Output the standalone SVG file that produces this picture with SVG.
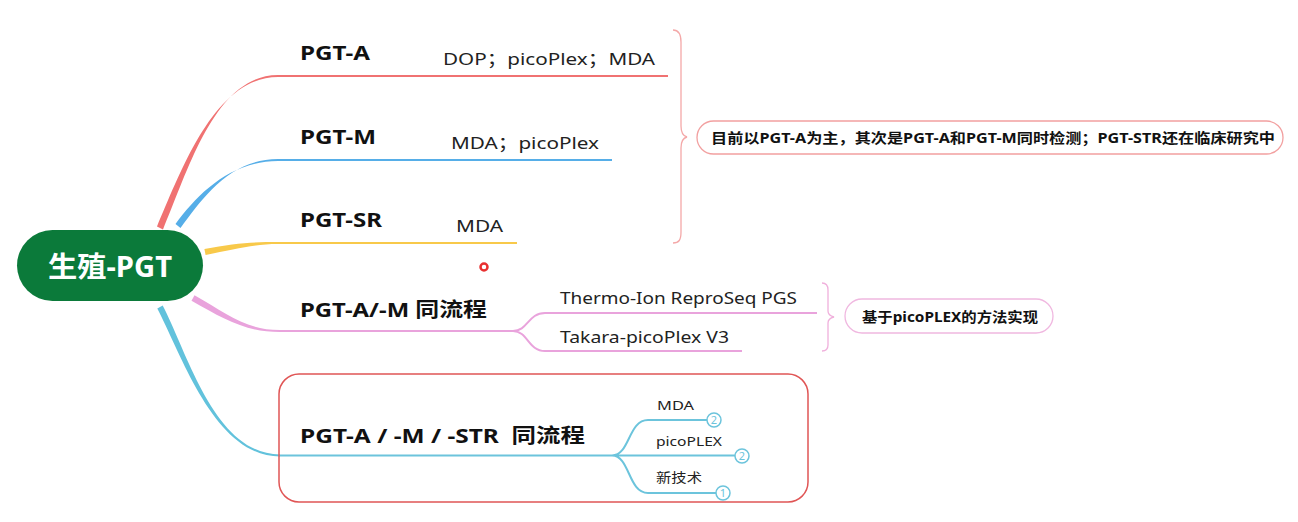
<svg xmlns="http://www.w3.org/2000/svg" width="1298" height="522" viewBox="0 0 1298 522">
<style>
text{font-family:"Noto Sans","Noto Sans CJK SC",sans-serif;}
.lbl{font-size:20px;font-weight:bold;fill:#111;}
.sub{font-size:17px;fill:#222;}
.sm{font-size:13px;fill:#222;}
.note{font-size:14px;font-weight:bold;fill:#111;}
.badge{fill:#fff;stroke:#6cc4dc;stroke-width:1.5;}
.bnum{font-size:11px;fill:#6cc4dc;text-anchor:middle;}
.thin{fill:none;stroke-width:2;}
</style>
<rect width="1298" height="522" fill="#fff"/>
<g id="connectors">
  <!-- PGT-A -->
  <path d="M163,229.5 C188,171 215,75 278,75 L278,77 C215,77 182,168.5 157,226.5 Z" fill="#f07272"/>
  <line x1="277" y1="76" x2="668" y2="76" class="thin" stroke="#f07272"/>
  <!-- PGT-M -->
  <path d="M180.5,228 C202.5,198 230,159 278,159 L278,161 C230,161 197.5,194 175.5,224 Z" fill="#56aee8"/>
  <line x1="277" y1="160" x2="612" y2="160" class="thin" stroke="#56aee8"/>
  <!-- PGT-SR -->
  <path d="M205.6,255 C235.6,249 255,244 278,244 L278,242 C255,242 234.4,243 204.4,249 Z" fill="#f8c94a"/>
  <line x1="277" y1="243" x2="517" y2="243" class="thin" stroke="#f8c94a"/>
  <!-- PGT-A/-M -->
  <path d="M191.5,300.8 C223.5,318.8 245,332 280,332 L280,330 C245,330 226.5,313.2 194.5,295.2 Z" fill="#e9a3dc"/>
  <path d="M279,331 L513,331 C528,331 528,313 545,313 L817,313 M513,331 C528,331 528,351 545,351 L742,351" class="thin" stroke="#e9a3dc"/>
  <!-- PGT-A/-M/-STR -->
  <path d="M162.7,305.5 C187.7,353.5 215,454.5 280,454.5 L280,456.5 C215,456.5 182.3,356.5 157.3,308.5 Z" fill="#62c2dc"/>
  <path d="M279,455.5 L612,455.5 C630,455.5 628,420 648,420 L707,420 M612,455.5 L735,455.5 M612,455.5 C630,455.5 628,493 648,493 L716,493" class="thin" stroke="#6cc4dc"/>
  <!-- braces -->
  <path d="M673,30 C679,30 681,34 681,42 L681,126 C681,133 683,136 687,137 C683,138 681,141 681,148 L681,232 C681,240 679,243 673,243" fill="none" stroke="#f4a8a8" stroke-width="1.3"/>
  <path d="M822,283 C826,283 828,285 828,290 L828,311 C828,314 830,316 834,317 C830,318 828,320 828,323 L828,345 C828,349 826,351 822,351" fill="none" stroke="#f0b0dc" stroke-width="1.3"/>
</g>
<g id="root">
  <rect x="17" y="230" width="186" height="71" rx="35.5" fill="#0b7a3a"/>
  <text x="110" y="277" font-size="28" font-weight="bold" fill="#fff" text-anchor="middle" textLength="124" lengthAdjust="spacingAndGlyphs">生殖-PGT</text>
</g>
<g id="pgt-a">
  <text x="300" y="60" class="lbl" textLength="70" lengthAdjust="spacingAndGlyphs">PGT-A</text>
  <text x="443" y="65" class="sub" textLength="212" lengthAdjust="spacingAndGlyphs">DOP；picoPlex；MDA</text>
</g>
<g id="pgt-m">
  <text x="300" y="144" class="lbl" textLength="76" lengthAdjust="spacingAndGlyphs">PGT-M</text>
  <text x="451" y="149" class="sub" textLength="148" lengthAdjust="spacingAndGlyphs">MDA；picoPlex</text>
</g>
<g id="pgt-sr">
  <text x="300" y="227" class="lbl" textLength="82" lengthAdjust="spacingAndGlyphs">PGT-SR</text>
  <text x="456" y="232" class="sub" textLength="47" lengthAdjust="spacingAndGlyphs">MDA</text>
</g>
<g id="note1">
  <rect x="697" y="121" width="586" height="33" rx="16.5" fill="#fff" stroke="#f2a0a0" stroke-width="1.3"/>
  <text x="711" y="143" class="note" textLength="564" lengthAdjust="spacingAndGlyphs">目前以PGT-A为主，其次是PGT-A和PGT-M同时检测；PGT-STR还在临床研究中</text>
</g>
<g id="marker-dot">
  <circle cx="484" cy="267" r="3.5" fill="#fff" stroke="#e83030" stroke-width="2.5"/>
</g>
<g id="pgt-am">
  <text x="300" y="317" class="lbl" textLength="187" lengthAdjust="spacingAndGlyphs">PGT-A/-M 同流程</text>
  <text x="560" y="304" class="sub" textLength="237" lengthAdjust="spacingAndGlyphs">Thermo-Ion ReproSeq PGS</text>
  <text x="560" y="343" class="sub" textLength="169" lengthAdjust="spacingAndGlyphs">Takara-picoPlex V3</text>
</g>
<g id="note2">
  <rect x="845" y="299" width="208" height="34" rx="17" fill="#fff" stroke="#f0b8e0" stroke-width="1.3"/>
  <text x="862" y="322" class="note" textLength="176" lengthAdjust="spacingAndGlyphs">基于picoPLEX的方法实现</text>
</g>
<g id="pgt-amstr">
  <rect x="279" y="374" width="529" height="128" rx="20" fill="none" stroke="#e05555" stroke-width="1.5"/>
  <text x="300" y="443" class="lbl" textLength="285" lengthAdjust="spacingAndGlyphs">PGT-A / -M / -STR&#160; 同流程</text>
  <text x="657" y="410" class="sm" textLength="37" lengthAdjust="spacingAndGlyphs">MDA</text>
  <circle cx="714" cy="420" r="7" class="badge"/>
  <text x="714" y="424" class="bnum">2</text>
  <text x="656" y="446" class="sm" textLength="66" lengthAdjust="spacingAndGlyphs">picoPLEX</text>
  <circle cx="742" cy="456" r="7" class="badge"/>
  <text x="742" y="460" class="bnum">2</text>
  <text x="656" y="482" class="sm" textLength="46" lengthAdjust="spacingAndGlyphs">新技术</text>
  <circle cx="723" cy="493" r="7" class="badge"/>
  <text x="723" y="497" class="bnum">1</text>
</g>
</svg>
